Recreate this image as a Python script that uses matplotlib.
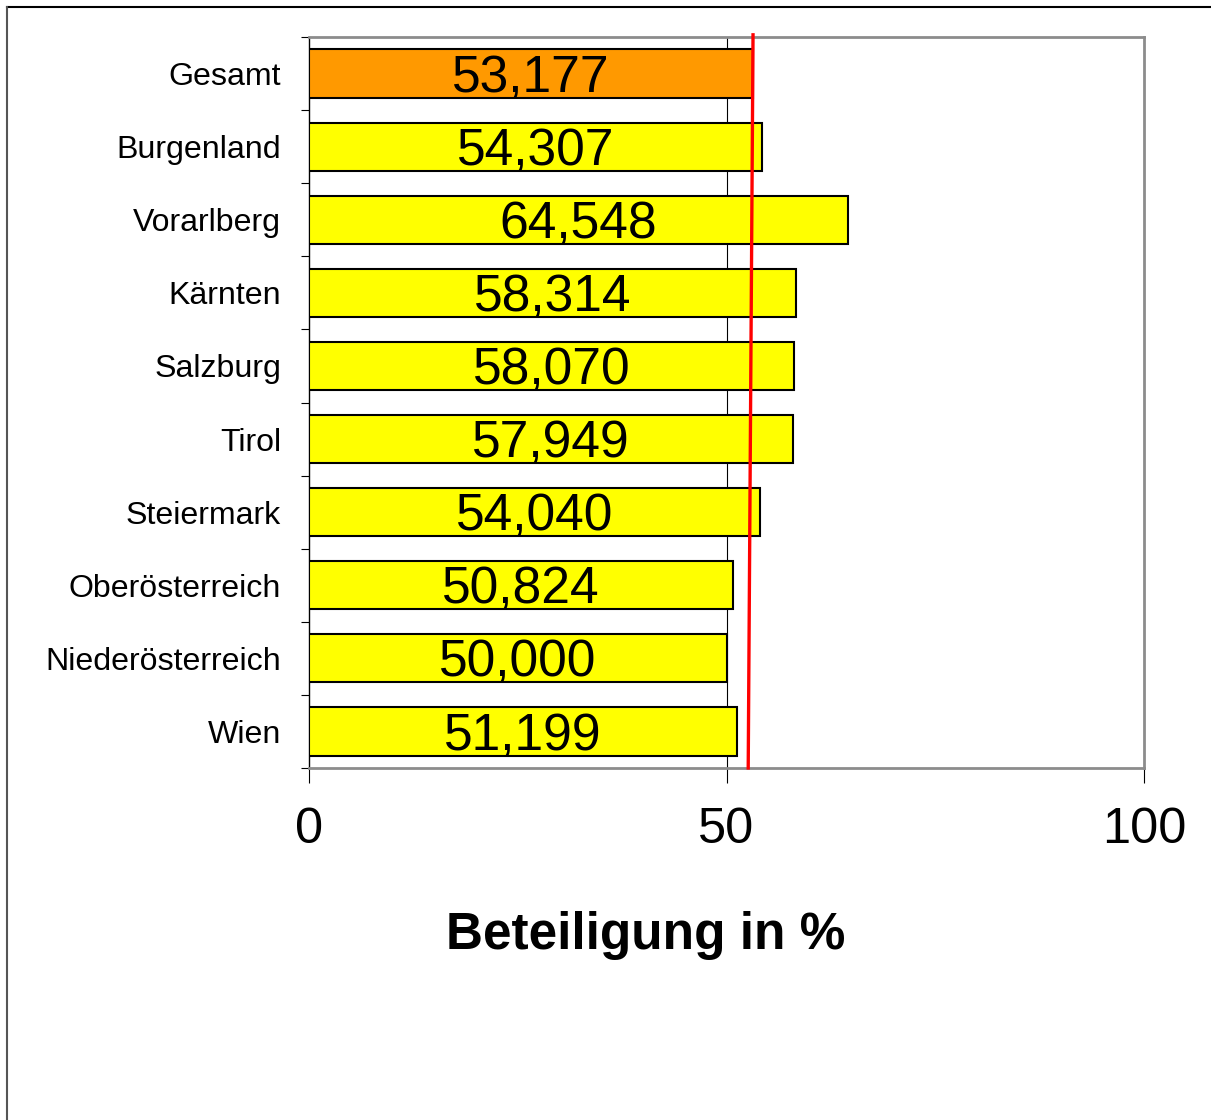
import matplotlib
matplotlib.use("Agg")
import matplotlib.pyplot as plt
from matplotlib.lines import Line2D
import numpy as np

plt.rcParams['font.family'] = ['Liberation Sans', 'DejaVu Sans']

categories = ["Gesamt", "Burgenland", "Vorarlberg", "Kärnten", "Salzburg",
              "Tirol", "Steiermark", "Oberösterreich", "Niederösterreich", "Wien"]
values = [53.177, 54.307, 64.548, 58.314, 58.070, 57.949, 54.040, 50.824, 50.000, 51.199]
labels = ["53,177", "54,307", "64,548", "58,314", "58,070", "57,949", "54,040",
          "50,824", "50,000", "51,199"]
colors = ["#FF9900"] + ["#FFFF00"] * 9
ref_top, ref_bottom = 53.177, 52.6
xticks = [0, 50, 100]

W, H = 1211, 1120
fig = plt.figure(figsize=(W / 100, H / 100), dpi=100)
ax = fig.add_axes([309 / W, 1 - 768 / H, 835 / W, 731 / H])

n = len(categories)
y = np.arange(n)
ax.barh(y, values, height=0.66, color=colors, edgecolor="black", linewidth=1.5, zorder=3)
for yi, v, lab in zip(y, values, labels):
    ax.text(v / 2, yi + 0.07, lab, ha="center", va="center", fontsize=37.2, zorder=4)

ax.set_xlim(0, 100)
ax.set_ylim(n - 0.5, -0.5)
ax.set_xticks(xticks)
ax.set_xticklabels([str(t) for t in xticks], fontsize=36.3)
ax.tick_params(axis="x", length=11, width=0.8, pad=17, direction="out")
ax.set_yticks(y)
ax.set_yticklabels(categories, fontsize=23.1)
ax.tick_params(axis="y", which="major", length=0, pad=20)
ax.set_yticks(np.arange(-0.5, n, 1.0), minor=True)
ax.tick_params(axis="y", which="minor", length=6, width=0.8, direction="out")

ax.axvline(50, color="black", linewidth=0.8, zorder=1)
ax.plot([ref_top, ref_bottom], [-0.53, n - 0.5], color="red", linewidth=2.4, zorder=5, clip_on=False)

for s in ["top", "right", "bottom"]:
    ax.spines[s].set_color("#8c8c8c")
    ax.spines[s].set_linewidth(2)
ax.spines["left"].set_color("black")
ax.spines["left"].set_linewidth(1)

fig.text(646 / W, 1 - 935 / H, "Beteiligung in %", ha="center", va="center",
         fontsize=37, fontweight="bold")

fig.add_artist(Line2D([7 / W, 1], [1 - 7 / H, 1 - 7 / H], color="black", linewidth=1.5,
                      transform=fig.transFigure))
fig.add_artist(Line2D([7 / W, 7 / W], [0, 1 - 7 / H], color="#555555", linewidth=1.5,
                      transform=fig.transFigure))

fig.savefig("out.png", dpi=100)
